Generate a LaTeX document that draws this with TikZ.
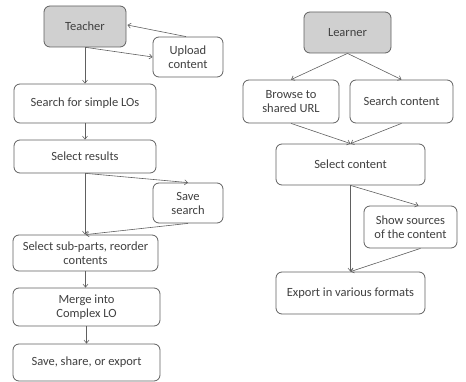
\documentclass[tikz,border=0pt]{standalone}
\usepackage{fontspec}
\setmainfont{Carlito}
\usetikzlibrary{arrows.meta,calc}
\definecolor{txt}{RGB}{64,64,64}
\definecolor{edge}{RGB}{96,96,96}
\definecolor{head}{RGB}{208,208,208}
\tikzset{
  box/.style={draw=edge, line width=0.8pt, rounded corners=6pt, fill=white, text=txt,
    align=center, inner sep=1pt, font=\fontsize{12.5}{14}\selectfont},
  actor/.style={box, fill=head},
  arr/.style={draw=edge, line width=0.6pt, -{Straight Barb[length=3pt,width=5pt]}},
}
\begin{document}
\begin{tikzpicture}[x=1pt,y=-1pt]
\useasboundingbox (0,0) rectangle (466,382);
% left column
\node[actor, minimum width=82pt, minimum height=41pt] (teacher) at (85,26.5) {Teacher};
\node[box, minimum width=70pt, minimum height=40pt] (upload) at (188,57) {Upload\\content};
\node[box, minimum width=142pt, minimum height=39pt] (searchlo) at (85,103.5) {Search for simple LOs};
\node[box, minimum width=142pt, minimum height=33pt] (selres) at (85,156.5) {Select results};
\node[box, minimum width=70pt, minimum height=40pt] (savesearch) at (188,203) {Save\\search};
\node[box, minimum width=145pt, minimum height=36pt] (subparts) at (85.5,253) {Select sub-parts, reorder\\contents};
\node[box, minimum width=147pt, minimum height=38pt] (merge) at (86.5,307) {Merge into\\Complex LO};
\node[box, minimum width=147pt, minimum height=37pt] (saveshare) at (86.5,362.5) {Save, share, or export};
% right column
\node[actor, minimum width=87pt, minimum height=41pt] (learner) at (347.5,32.5) {Learner};
\node[box, minimum width=96pt, minimum height=43pt] (browse) at (291,101.5) {Browse to\\shared URL};
\node[box, minimum width=103pt, minimum height=43pt] (searchc) at (401.5,101.5) {Search content};
\node[box, minimum width=149pt, minimum height=41pt] (selc) at (350.5,164.5) {Select content};
\node[box, minimum width=93pt, minimum height=42pt] (showsrc) at (410.5,227) {Show sources\\of the content};
\node[box, minimum width=149pt, minimum height=42pt] (export) at (350.5,293) {Export in various formats};
% left connectors
\draw[arr] ($(upload.north)+(-2,0)$) -- ($(teacher.east)+(1,-1.5)$);
\draw[arr] ($(teacher.south)+(1,0)$) -- (upload.west);
\draw[arr] (teacher.south) -- (searchlo.north);
\draw[arr] (searchlo.south) -- (selres.north);
\draw[arr] ($(selres.south)+(1,0)$) -- (savesearch.north);
\draw[arr] (selres.south) -- (selres.south |- subparts.north);
\draw[arr] (savesearch.south) -- (subparts.north);
\draw[arr] (subparts.south) -- (subparts.south |- merge.north);
\draw[arr] (merge.south) -- (saveshare.north);
% right connectors
\draw[arr] (learner.south) -- (browse.north);
\draw[arr] (learner.south) -- (searchc.north);
\draw[arr] (browse.south) -- (selc.north);
\draw[arr] (searchc.south) -- (selc.north);
\draw[arr] (selc.south) -- ($(showsrc.north)+(8,0)$);
\draw[arr] ($(showsrc.south)+(10,0)$) -- (export.north);
\draw[arr] (selc.south) -- (export.north);
\end{tikzpicture}
\end{document}
